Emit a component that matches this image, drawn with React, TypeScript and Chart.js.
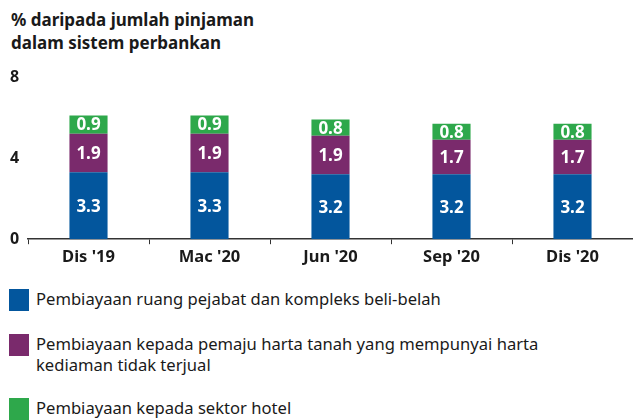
import React, { useEffect, useRef } from "react";
import { Chart, registerables } from "chart.js";

Chart.register(...registerables);

const categories = ["Dis '19", "Mac '20", "Jun '20", "Sep '20", "Dis '20"];
const officeRetail = [3.3, 3.3, 3.2, 3.2, 3.2];
const developers = [1.9, 1.9, 1.9, 1.7, 1.7];
const hotel = [0.9, 0.9, 0.8, 0.8, 0.8];
const yTicks = [0, 4, 8];

const seriesNames = [
  "Pembiayaan ruang pejabat dan kompleks beli-belah",
  "Pembiayaan kepada pemaju harta tanah yang mempunyai harta kediaman tidak terjual",
  "Pembiayaan kepada sektor hotel",
];
const colors = ["#03569d", "#7a2a6c", "#2ea84b"];
const FONT = "'Noto Sans', 'Open Sans', sans-serif";
const TEXT = "#1a1a1a";

const labelPlugin = {
  id: "segLabels",
  afterDatasetsDraw(chart: any) {
    const ctx = chart.ctx;
    ctx.save();
    ctx.fillStyle = "#ffffff";
    ctx.font = `bold 17px ${FONT}`;
    ctx.textAlign = "center";
    ctx.textBaseline = "middle";
    chart.data.datasets.forEach((ds: any, i: number) => {
      const meta = chart.getDatasetMeta(i);
      meta.data.forEach((bar: any, j: number) => {
        const p = bar.getProps(["x", "y", "base"], true);
        ctx.fillText(ds.data[j].toFixed(1), p.x, (p.y + p.base) / 2 + 1);
      });
    });
    ctx.restore();
  },
};

function BarChart() {
  const ref = useRef<HTMLCanvasElement>(null);
  useEffect(() => {
    const data = [officeRetail, developers, hotel];
    const chart = new Chart(ref.current!, {
      type: "bar",
      data: {
        labels: categories,
        datasets: data.map((d, i) => ({
          label: seriesNames[i],
          data: d,
          backgroundColor: colors[i],
          borderWidth: 0,
          barPercentage: 0.315,
          categoryPercentage: 1,
        })),
      },
      options: {
        animation: false,
        responsive: false,
        maintainAspectRatio: false,
        layout: { padding: { left: 10, right: 0, top: 17, bottom: 0 } },
        plugins: { legend: { display: false }, title: { display: false }, tooltip: { enabled: false } },
        scales: {
          x: {
            stacked: true,
            grid: { display: true, drawOnChartArea: false, drawTicks: true, tickLength: 5, color: "#333", offset: true },
            border: { display: true, color: "#333", width: 1.5 },
            ticks: { color: TEXT, font: { family: FONT, size: 16.5, weight: "bold" }, padding: 3, maxRotation: 0 },
          },
          y: {
            stacked: true,
            min: 0,
            max: 8,
            afterBuildTicks: (s: any) => {
              s.ticks = yTicks.map((v) => ({ value: v }));
            },
            afterFit: (s: any) => {
              s.width = 18;
            },
            grid: { display: false },
            border: { display: false },
            ticks: {
              color: TEXT,
              crossAlign: "far",
              padding: 0,
              font: { family: FONT, size: 16, weight: "bold" },
            },
          },
        },
      },
      plugins: [labelPlugin],
    });
    return () => chart.destroy();
  }, []);
  return <canvas ref={ref} width={633} height={210} style={{ position: "absolute", left: 0, top: 60 }} />;
}

export default function App() {
  return (
    <div style={{ position: "fixed", left: 0, top: 0, width: 633, height: 420, background: "#fff", fontFamily: FONT, color: TEXT, overflow: "hidden" }}>
      <div style={{ position: "absolute", left: 11, top: 8, fontSize: 17, fontWeight: "bold", lineHeight: "23px" }}>
        % daripada jumlah pinjaman
        <br />
        dalam sistem perbankan
      </div>
      <BarChart />
      {[
        { top: 289, i: 0 },
        { top: 334, i: 1 },
        { top: 398, i: 2 },
      ].map(({ top, i }) => (
        <div key={i} style={{ position: "absolute", left: 9, top, display: "flex", alignItems: "flex-start" }}>
          <div style={{ width: 20, height: 22, background: colors[i], flex: "none" }} />
          <div style={{ marginLeft: 7, fontSize: 16.6, lineHeight: "21px", width: 590, marginTop: -1 }}>
            {i === 1 ? (
              <>
                Pembiayaan kepada pemaju harta tanah yang mempunyai harta
                <br />
                kediaman tidak terjual
              </>
            ) : (
              seriesNames[i]
            )}
          </div>
        </div>
      ))}
    </div>
  );
}
